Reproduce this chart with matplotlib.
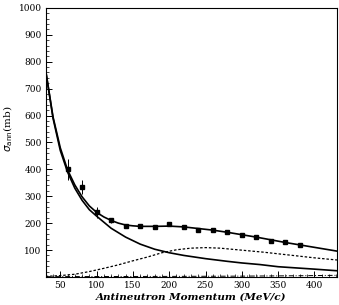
import matplotlib
matplotlib.use("Agg")
import matplotlib.pyplot as plt
from matplotlib.ticker import MultipleLocator

# Data points (antineutron annihilation cross section)
p_data = [60, 80, 100, 120, 140, 160, 180, 200, 220, 240, 260, 280, 300, 320, 340, 360, 380]
sigma_data = [400, 335, 240, 210, 191, 191, 187, 195, 187, 176, 176, 166, 156, 147, 134, 131, 118]
sigma_err = [40, 25, 20, 8, 6, 6, 6, 6, 6, 6, 6, 6, 6, 6, 6, 6, 6]

# Total fit (upper solid curve)
p_total = [30, 40, 50, 60, 70, 80, 90, 100, 110, 120, 130, 140, 150, 160, 180, 200, 220,
           240, 260, 280, 300, 320, 340, 360, 380, 400, 431]
s_total = [765, 595, 480, 398, 342, 298, 264, 240, 223, 210, 200, 193, 190, 188, 188, 189, 186,
           180, 174, 166, 157, 148, 138, 128, 119, 110, 96]

# Lower solid component
p_low = [30, 40, 50, 60, 70, 80, 90, 100, 120, 140, 160, 180, 200, 220, 250, 280, 300, 325,
         350, 400, 431]
s_low = [765, 590, 470, 390, 330, 285, 250, 226, 181, 148, 122, 103, 90, 80, 68, 58, 52, 46,
         38, 29, 23]

# Dotted component
p_dot = [30, 50, 70, 90, 110, 130, 150, 170, 190, 210, 230, 250, 270, 290, 310, 330, 350,
         380, 400, 431]
s_dot = [2, 5, 10, 20, 32, 45, 60, 74, 90, 101, 107, 109, 107, 102, 97, 92, 86, 77, 71, 63]

# Dash-dot component near zero
p_dd = [30, 100, 200, 300, 380, 431]
s_dd = [1, 1.5, 2, 3, 4.5, 6]

x_ticks = [50, 100, 150, 200, 250, 300, 350, 400]
y_ticks = [100, 200, 300, 400, 500, 600, 700, 800, 900, 1000]

plt.rcParams['font.family'] = ['DejaVu Serif']

fig = plt.figure(figsize=(3.39, 3.05), dpi=100)
ax = fig.add_axes([0.135, 0.092, 0.859, 0.882])

ax.plot(p_total, s_total, color='black', lw=1.2)
ax.plot(p_low, s_low, color='black', lw=1.2)
ax.plot(p_dot, s_dot, color='black', lw=0.9, ls=(0, (2, 1.5)))
ax.plot(p_dd, s_dd, color='black', lw=0.7, ls=(0, (5, 2, 1, 2)))
ax.errorbar(p_data, sigma_data, yerr=sigma_err, fmt='s', color='black', ms=3.2,
            elinewidth=0.7, capsize=0)

ax.set_xlim(30, 431)
ax.set_ylim(0, 1000)
ax.set_xticks(x_ticks)
ax.set_yticks(y_ticks)
ax.xaxis.set_minor_locator(MultipleLocator(10))
ax.yaxis.set_minor_locator(MultipleLocator(20))
ax.tick_params(which='both', direction='in', top=False, right=False, labelsize=6.5, pad=3)
ax.tick_params(which='major', length=4, width=0.7)
ax.tick_params(which='minor', length=2, width=0.5)
for s in ax.spines.values():
    s.set_linewidth(0.8)

ax.set_xlabel('Antineutron Momentum (MeV/c)', fontsize=7.5, fontweight='bold',
              fontstyle='italic', labelpad=2)
ax.set_ylabel(r'$\sigma_{\rm ann}$(mb)', fontsize=7.5, labelpad=4)
ax.yaxis.set_label_coords(-0.105, 0.55)

fig.savefig('out.png', dpi=100)
